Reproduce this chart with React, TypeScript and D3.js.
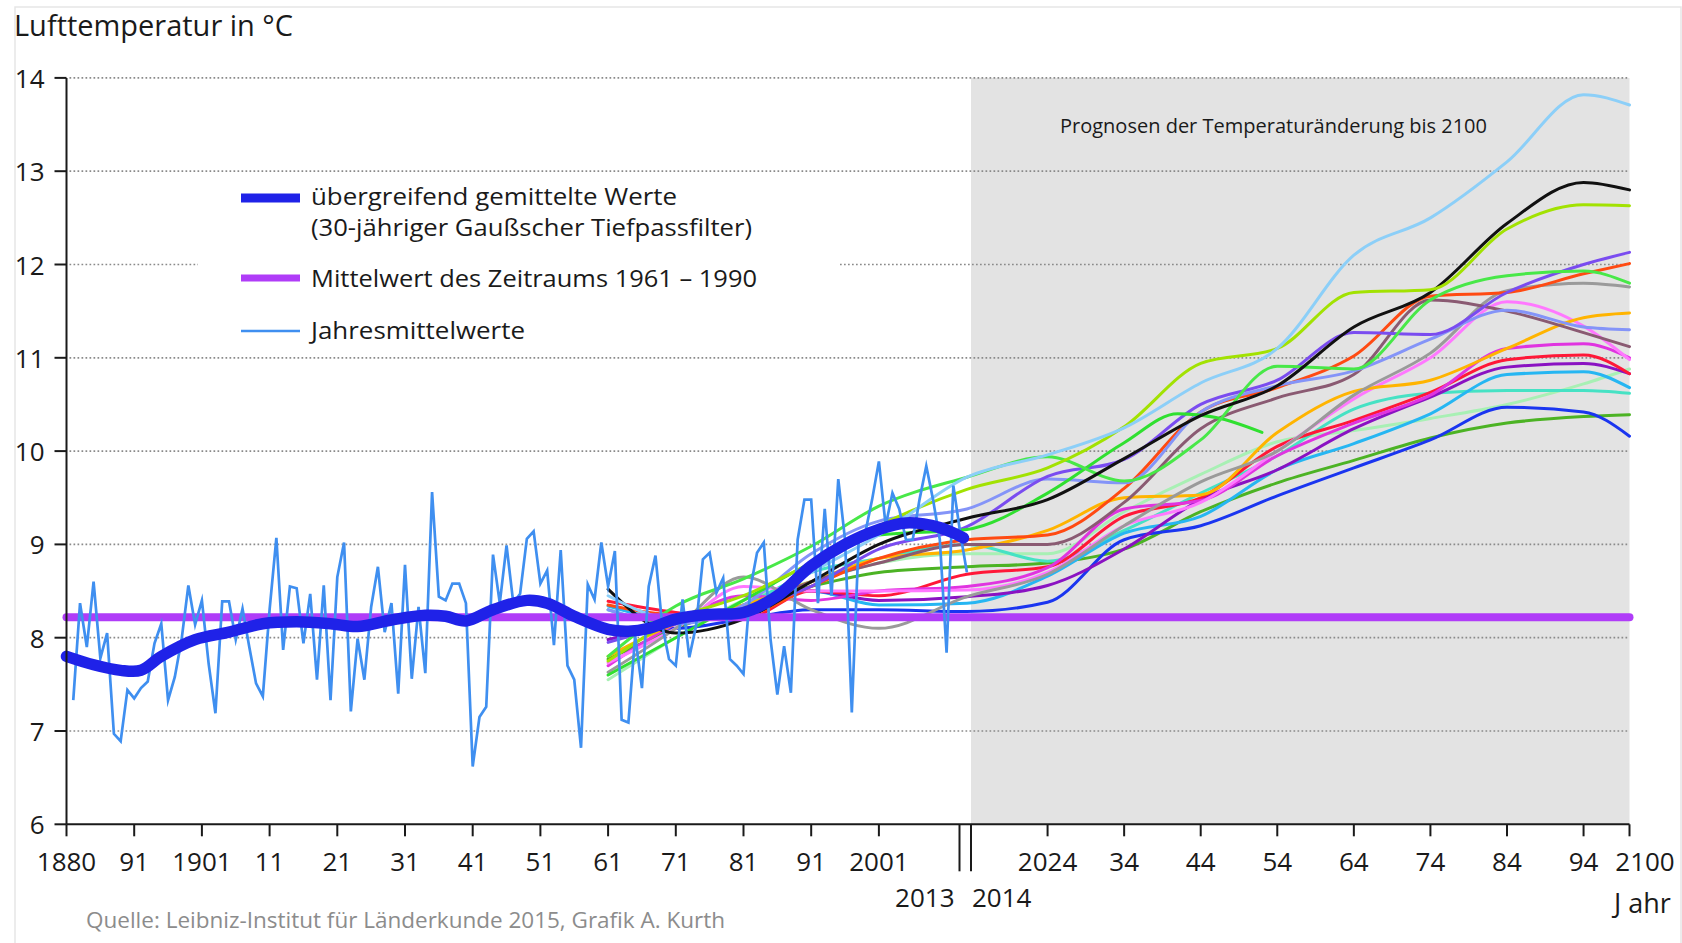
import React from 'react';
import * as d3 from 'd3';

// ---------- DATA ----------
const annualStartYear = 1881;
const annualValues = [
  7.33, 8.37, 7.9, 8.6, 7.78, 8.05, 6.97, 6.89, 7.44, 7.35, // 1881-1890
  7.46, 7.53, 7.94, 8.15, 7.33, 7.58, 7.98, 8.56, 8.14, 8.4, // 1891-1900
  7.72, 7.19, 8.39, 8.39, 7.98, 8.31, 7.9, 7.51, 7.37, 8.3, // 1901-1910
  9.07, 7.87, 8.55, 8.53, 7.94, 8.47, 7.55, 8.56, 7.33, 8.65, // 1911-1920
  9.02, 7.21, 7.99, 7.55, 8.33, 8.76, 8.06, 8.37, 7.4, 8.78, // 1921-1930
  7.56, 8.33, 7.62, 9.56, 8.44, 8.4, 8.58, 8.58, 8.37, 6.62, // 1931-1940
  7.15, 7.26, 8.89, 8.37, 8.99, 8.37, 8.47, 9.06, 9.14, 8.58, // 1941-1950
  8.72, 7.92, 8.94, 7.7, 7.55, 6.82, 8.57, 8.41, 9.02, 8.55, // 1951-1960
  8.93, 7.12, 7.09, 8.02, 7.46, 8.55, 8.88, 8.13, 7.77, 7.7, // 1961-1970
  8.41, 7.79, 8.13, 8.84, 8.91, 8.48, 8.64, 7.77, 7.7, 7.61, // 1971-1980
  8.52, 8.91, 9.02, 7.98, 7.39, 7.91, 7.41, 9.05, 9.48, 9.48, // 1981-1990
  8.37, 9.38, 8.45, 9.7, 9.05, 7.2, 9.02, 9.13, 9.48, 9.89, // 1991-2000
  9.2, 9.55, 9.38, 9.05, 9.05, 9.48, 9.84, 9.48, 9.05, 7.84, // 2001-2010
  9.63, 9.13, 8.7, // 2011-2013
];

const smoothYears = [1880, 1884, 1888, 1891, 1894, 1899, 1904, 1909, 1914, 1919, 1923, 1928, 1933, 1936, 1939, 1943, 1948, 1951, 1955, 1960, 1963, 1966, 1970, 1975, 1980, 1985, 1990, 1995, 2000, 2004, 2009, 2012.5];
const smoothValues = [7.8, 7.71, 7.65, 7.65, 7.8, 7.98, 8.06, 8.15, 8.17, 8.15, 8.12, 8.19, 8.24, 8.23, 8.18, 8.3, 8.4, 8.37, 8.23, 8.09, 8.07, 8.1, 8.2, 8.25, 8.27, 8.45, 8.77, 9.0, 9.16, 9.23, 9.18, 9.07];

const referenceMean = 8.22;
const referenceSpan = [1880, 2100];

const modelYears = [1960, 1970, 1980, 1990, 2000, 2013, 2024, 2034, 2044, 2054, 2064, 2074, 2084, 2094, 2100];
const shortModelYears = [1960, 1970, 1980, 1990, 2000, 2013, 2024, 2034, 2041, 2046, 2052];

const mSkyBlue = [8.45, 8.2, 8.3, 8.7, 9.1, 9.72, 9.96, 10.25, 10.73, 11.1, 12.1, 12.5, 13.1, 13.82, 13.71];
const mBlack = [8.52, 8.05, 8.2, 8.6, 9.0, 9.28, 9.48, 9.92, 10.38, 10.7, 11.33, 11.7, 12.44, 12.88, 12.8];
const mYellowGreen = [7.75, 8.2, 8.45, 8.8, 9.2, 9.59, 9.82, 10.26, 10.94, 11.1, 11.7, 11.73, 12.38, 12.64, 12.63];
const mGreen = [7.8, 8.34, 8.63, 8.98, 9.41, 9.72, 9.94, 9.68, 10.12, 10.91, 10.88, 11.62, 11.88, 11.93, 11.8];
const mViolet = [7.95, 8.15, 8.3, 8.55, 8.95, 9.19, 9.73, 9.91, 10.5, 10.76, 11.27, 11.25, 11.7, 12.0, 12.13];
const mPeriwinkle = [8.3, 8.15, 8.35, 8.9, 9.25, 9.38, 9.7, 9.66, 10.42, 10.7, 10.86, 11.2, 11.51, 11.33, 11.3];
const mOrangeRed = [8.35, 8.25, 8.25, 8.55, 8.85, 9.05, 9.1, 9.6, 10.42, 10.68, 11.02, 11.66, 11.7, 11.9, 12.01];
const mBrown = [8.2, 8.2, 8.3, 8.6, 8.8, 9.0, 9.0, 9.45, 10.24, 10.57, 10.82, 11.62, 11.5, 11.27, 11.12];
const mGray = [7.63, 8.1, 8.65, 8.3, 8.1, 8.44, 8.68, 9.2, 9.67, 10.0, 10.6, 11.05, 11.72, 11.8, 11.76];
const mOrange = [7.8, 8.15, 8.35, 8.6, 8.85, 8.94, 9.15, 9.5, 9.53, 10.2, 10.64, 10.76, 11.1, 11.43, 11.48];
const mPink = [7.73, 8.1, 8.55, 8.5, 8.5, 8.51, 8.7, 9.2, 9.45, 10.0, 10.56, 11.0, 11.6, 11.34, 10.98];
const mMagenta = [7.7, 8.15, 8.45, 8.4, 8.5, 8.55, 8.75, 9.38, 9.47, 9.95, 10.3, 10.6, 11.1, 11.15, 11.0];
const mRed = [8.39, 8.27, 8.2, 8.5, 8.45, 8.68, 8.76, 9.3, 9.5, 10.05, 10.33, 10.63, 10.98, 11.03, 10.83];
const mDarkPurple = [7.98, 8.15, 8.3, 8.5, 8.4, 8.44, 8.56, 8.95, 9.48, 9.8, 10.24, 10.58, 10.9, 10.94, 10.83];
const mCyan = [8.34, 8.2, 8.3, 8.5, 8.35, 8.37, 8.66, 9.12, 9.3, 9.8, 10.08, 10.4, 10.82, 10.85, 10.68];
const mAquamarine = [8.3, 8.15, 8.35, 8.7, 8.85, 9.0, 8.82, 9.15, 9.55, 9.95, 10.45, 10.62, 10.65, 10.65, 10.62];
const mMint = [7.55, 8.0, 8.4, 8.6, 8.8, 8.9, 8.9, 9.35, 9.75, 10.1, 10.22, 10.35, 10.5, 10.72, 10.88];
const mDarkBlue = [8.1, 8.1, 8.2, 8.3, 8.3, 8.28, 8.38, 9.05, 9.2, 9.52, 9.82, 10.12, 10.47, 10.42, 10.16];
const mOlive = [7.77, 8.1, 8.35, 8.55, 8.7, 8.76, 8.8, 8.95, 9.35, 9.66, 9.9, 10.14, 10.3, 10.37, 10.39];
const mShortGreen = [7.6, 8.0, 8.4, 8.8, 9.1, 9.16, 9.55, 10.09, 10.4, 10.36, 10.2];

const yTicks = [6, 7, 8, 9, 10, 11, 12, 13, 14];
const histTickYears = [1880, 1890, 1900, 1910, 1920, 1930, 1940, 1950, 1960, 1970, 1980, 1990, 2000];
const histTickLabels = ['1880', '91', '1901', '11', '21', '31', '41', '51', '61', '71', '81', '91', '2001'];
const futTickYears = [2024, 2034, 2044, 2054, 2064, 2074, 2084, 2094, 2100];
const futTickLabels = ['2024', '34', '44', '54', '64', '74', '84', '94', '2100'];

// ---------- LAYOUT ----------
const W = 1682;
const H = 943;
const FONT = "'Open Sans', 'Noto Sans', sans-serif";

const x = d3.scaleLinear().domain([1880, 2013, 2014, 2100]).range([66.5, 966.9, 971, 1629.5]);
const y = d3.scaleLinear().domain([6, 14]).range([824.3, 77.9]);

type Pt = [number, number];

const modelSeries: { years: number[]; values: number[]; color: string }[] = [
  { years: modelYears, values: mMint, color: '#a8f0b4' },
  { years: modelYears, values: mOlive, color: '#4cb324' },
  { years: modelYears, values: mDarkBlue, color: '#1a35f0' },
  { years: modelYears, values: mAquamarine, color: '#46e2c4' },
  { years: modelYears, values: mCyan, color: '#26b6f2' },
  { years: modelYears, values: mDarkPurple, color: '#8a12c2' },
  { years: modelYears, values: mRed, color: '#ff1838' },
  { years: modelYears, values: mMagenta, color: '#e034e0' },
  { years: modelYears, values: mPink, color: '#ff78ff' },
  { years: modelYears, values: mOrange, color: '#ffb400' },
  { years: modelYears, values: mGray, color: '#9a9a9a' },
  { years: modelYears, values: mBrown, color: '#8a5a72' },
  { years: modelYears, values: mOrangeRed, color: '#ff4a12' },
  { years: modelYears, values: mPeriwinkle, color: '#8494f8' },
  { years: modelYears, values: mViolet, color: '#7a4cf0' },
  { years: shortModelYears, values: mShortGreen, color: '#30e030' },
  { years: modelYears, values: mGreen, color: '#48e848' },
  { years: modelYears, values: mBlack, color: '#111111' },
  { years: modelYears, values: mYellowGreen, color: '#a2e202' },
  { years: modelYears, values: mSkyBlue, color: '#8ccff8' },
];

const modelLine = d3.line<Pt>().x(d => x(d[0])).y(d => y(d[1])).curve(d3.curveMonotoneX);
const smoothLine = d3.line<Pt>().x(d => x(d[0])).y(d => y(d[1])).curve(d3.curveCatmullRom.alpha(0.5));
const annualLine = d3.line<Pt>().x(d => x(d[0])).y(d => y(d[1]));

export default function App() {
  const annualPts: Pt[] = annualValues.map((v, i) => [annualStartYear + i, v]);
  const smoothPts: Pt[] = smoothYears.map((yr, i) => [yr, smoothValues[i]]);
  const x0 = x(1880);
  const xEnd = x(2100);
  const yBase = y(6);
  const breakX2 = x(2014);
  const breakX1 = breakX2 - 11.5;
  const gridGap = { value: 12, from: 198, to: 837 };

  return (
    <svg width={W} height={H} viewBox={`0 0 ${W} ${H}`}
      style={{ position: 'absolute', left: 0, top: 0, display: 'block', background: '#fff' }}
      fontFamily={FONT}>
      {/* faint frame */}
      <rect x={15} y={7} width={1666} height={960} fill="none" stroke="#e6e6e6" strokeWidth={1.5} />

      {/* forecast shading */}
      <rect x={x(2014)} y={y(14)} width={xEnd - x(2014)} height={yBase - y(14)} fill="#e3e3e3" />

      {/* grid lines */}
      {yTicks.filter(v => v > 6).map(v => {
        const segs: [number, number][] = v === gridGap.value ? [[x0, gridGap.from], [gridGap.to, xEnd]] : [[x0, xEnd]];
        return segs.map((s, i) => (
          <line key={`g${v}-${i}`} x1={s[0] + 3} x2={s[1]} y1={y(v)} y2={y(v)}
            stroke="#8a8a8a" strokeWidth={1.7} strokeDasharray="1.7 2.3" />
        ));
      })}

      {/* model projections */}
      {modelSeries.map((m, i) => (
        <path key={`m${i}`} d={modelLine(m.years.map((yr, j) => [yr, m.values[j]] as Pt)) || ''}
          fill="none" stroke={m.color} strokeWidth={3} strokeLinecap="round" />
      ))}

      {/* reference mean 1961-1990 */}
      <line x1={x(referenceSpan[0])} x2={x(referenceSpan[1])} y1={y(referenceMean)} y2={y(referenceMean)}
        stroke="#b03cf8" strokeWidth={8} strokeLinecap="round" />

      {/* annual means */}
      <path d={annualLine(annualPts) || ''} fill="none" stroke="#3f8ff0" strokeWidth={2.7} strokeLinejoin="miter" strokeMiterlimit={6} />

      {/* smoothed */}
      <path d={smoothLine(smoothPts) || ''} fill="none" stroke="#1f22e8" strokeWidth={11.5} strokeLinecap="round" strokeLinejoin="round" />

      {/* axes */}
      <line x1={x0} x2={x0} y1={y(14)} y2={yBase} stroke="#1a1a1a" strokeWidth={2} />
      <line x1={x0} x2={xEnd} y1={yBase} y2={yBase} stroke="#1a1a1a" strokeWidth={2} />
      {yTicks.map(v => (
        <g key={`yt${v}`}>
          <line x1={x0 - 12} x2={x0} y1={y(v)} y2={y(v)} stroke="#1a1a1a" strokeWidth={2} />
          <text x={44.5} y={y(v)} textAnchor="end" dominantBaseline="central" fontSize={26} fill="#1a1a1a">{v}</text>
        </g>
      ))}
      {histTickYears.map((yr, i) => (
        <g key={`xt${yr}`}>
          <line x1={x(yr)} x2={x(yr)} y1={yBase} y2={yBase + 12} stroke="#1a1a1a" strokeWidth={2} />
          <text x={x(yr)} y={861} textAnchor="middle" dominantBaseline="central" fontSize={26} fill="#1a1a1a">{histTickLabels[i]}</text>
        </g>
      ))}
      {futTickYears.map((yr, i) => (
        <g key={`xf${yr}`}>
          <line x1={x(yr)} x2={x(yr)} y1={yBase} y2={yBase + 12} stroke="#1a1a1a" strokeWidth={2} />
          <text x={x(yr) + (i === futTickYears.length - 1 ? 15.5 : 0)} y={861} textAnchor="middle" dominantBaseline="central" fontSize={26} fill="#1a1a1a">{futTickLabels[i]}</text>
        </g>
      ))}
      {/* axis break */}
      <line x1={breakX1} x2={breakX1} y1={yBase} y2={yBase + 47} stroke="#1a1a1a" strokeWidth={2} />
      <line x1={breakX2} x2={breakX2} y1={yBase} y2={yBase + 47} stroke="#1a1a1a" strokeWidth={2} />
      <text x={breakX1 - 5} y={897} textAnchor="end" dominantBaseline="central" fontSize={26} fill="#1a1a1a">2013</text>
      <text x={breakX2 + 1} y={897} textAnchor="start" dominantBaseline="central" fontSize={26} fill="#1a1a1a">2014</text>
      <text x={1614} y={902} textAnchor="start" dominantBaseline="central" fontSize={27} fill="#1a1a1a">
        <tspan>J</tspan><tspan dx={7}>ahr</tspan>
      </text>

      {/* title */}
      <text x={14} y={36} fontSize={29} fill="#1a1a1a" textLength={279} lengthAdjust="spacingAndGlyphs">Lufttemperatur in °C</text>

      {/* forecast label */}
      <text x={1060} y={125} dominantBaseline="central" fontSize={20} fill="#1a1a1a" textLength={427} lengthAdjust="spacingAndGlyphs">Prognosen der Temperaturänderung bis 2100</text>

      {/* legend */}
      <line x1={241} x2={300} y1={198} y2={198} stroke="#1f22e8" strokeWidth={9} />
      <text x={311} y={195.5} dominantBaseline="central" fontSize={23} fill="#1a1a1a" textLength={366} lengthAdjust="spacingAndGlyphs">übergreifend gemittelte Werte</text>
      <text x={311} y={227} dominantBaseline="central" fontSize={23} fill="#1a1a1a" textLength={441} lengthAdjust="spacingAndGlyphs">(30-jähriger Gaußscher Tiefpassfilter)</text>
      <line x1={241} x2={300} y1={278} y2={278} stroke="#b03cf8" strokeWidth={7} />
      <text x={311} y={278} dominantBaseline="central" fontSize={23} fill="#1a1a1a" textLength={446} lengthAdjust="spacingAndGlyphs">Mittelwert des Zeitraums 1961 – 1990</text>
      <line x1={241} x2={300} y1={331} y2={331} stroke="#3f8ff0" strokeWidth={2.6} />
      <text x={311} y={330} dominantBaseline="central" fontSize={23} fill="#1a1a1a" textLength={214} lengthAdjust="spacingAndGlyphs">Jahresmittelwerte</text>

      {/* source */}
      <text x={86} y={920} dominantBaseline="central" fontSize={21} fill="#8c8c8c" textLength={639} lengthAdjust="spacingAndGlyphs">Quelle: Leibniz-Institut für Länderkunde 2015, Grafik A. Kurth</text>
    </svg>
  );
}
